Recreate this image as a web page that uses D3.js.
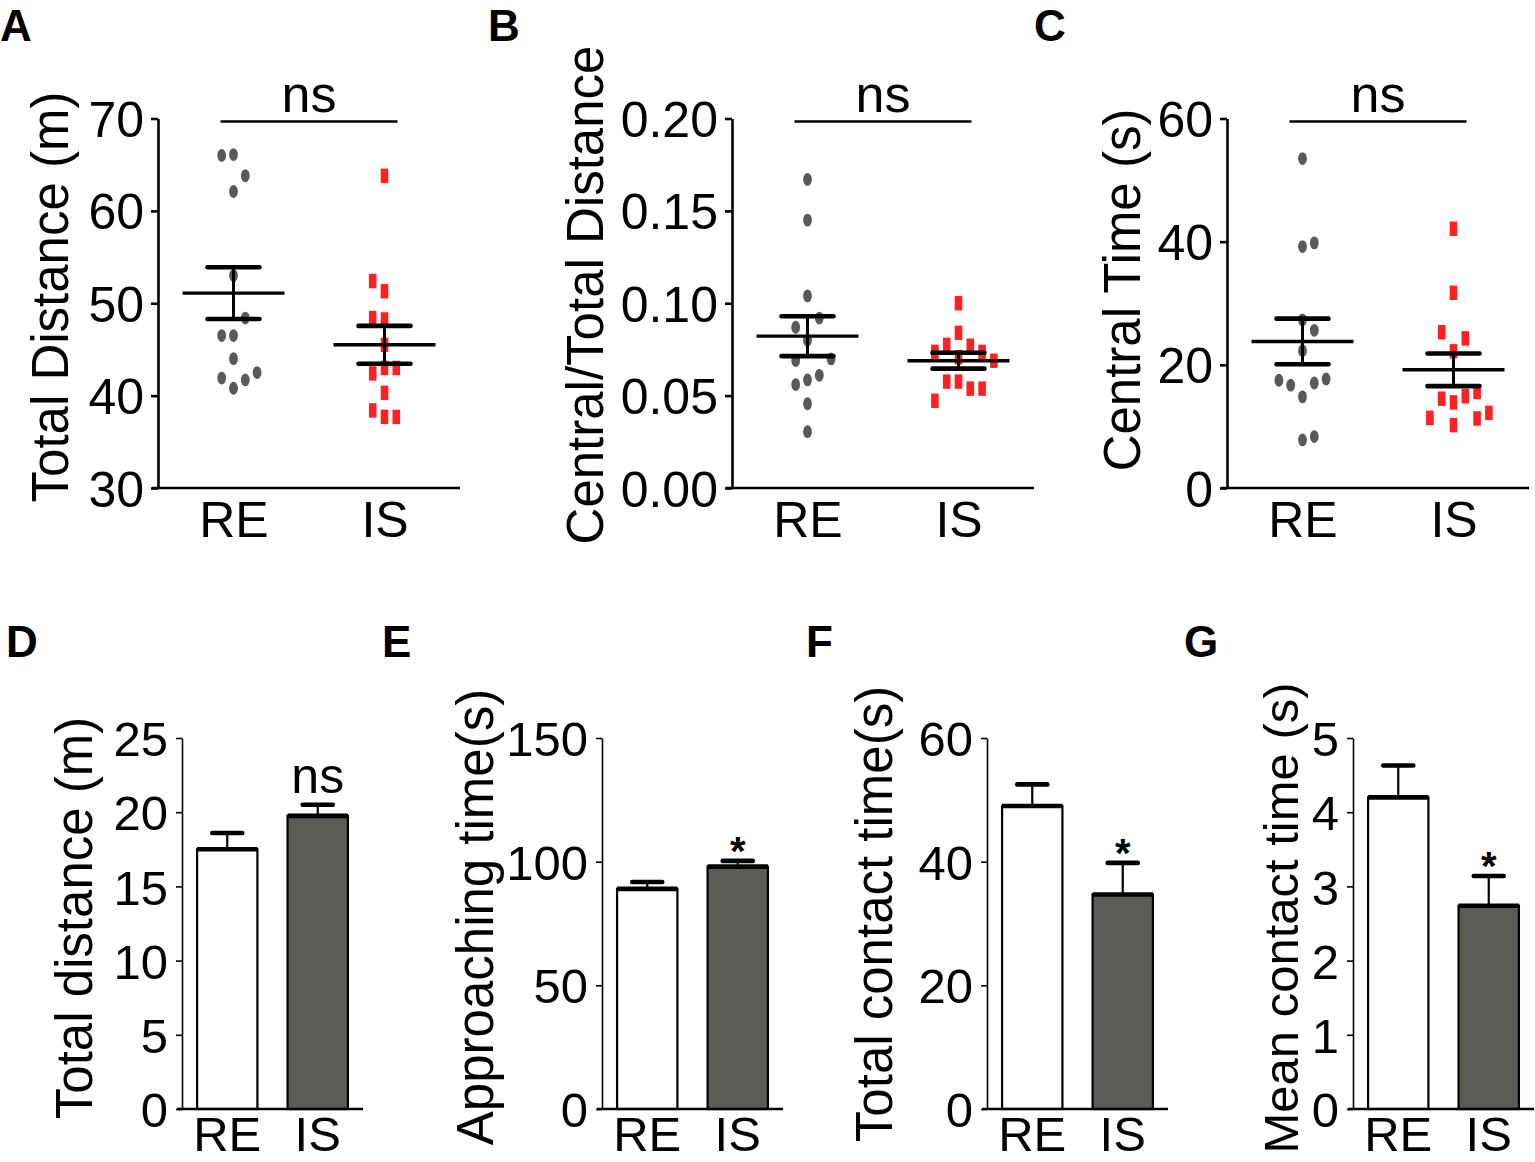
<!DOCTYPE html>
<html><head><meta charset="utf-8">
<script src="https://cdn.jsdelivr.net/npm/d3@7"></script>
<style>
html,body{margin:0;padding:0;background:#fff;}
svg text{font-family:"Liberation Sans",Arial,Helvetica,sans-serif;fill:#000;}
</style></head><body>
<svg id="fig" width="1535" height="1162" xmlns="http://www.w3.org/2000/svg"></svg>
<script>
// ---------- DATA ----------
const groups = ["RE", "IS"];

// A: Total Distance (m)
const aRE = [66.1, 66.0, 63.8, 62.1, 53.0, 46.5, 46.5, 48.4, 44.0, 40.8, 41.9, 41.7, 42.5];
const aIS = [63.8, 51.3, 52.4, 48.25, 48.4, 45.5, 43.0, 42.4, 43.0, 40.3, 37.7, 38.4, 37.7];
const aMean = [51.1, 45.5];
const aSem = [2.8, 2.05];
const aTicks = [30, 40, 50, 60, 70];

// B: Central/Total Distance
const bRE = [0.167, 0.145, 0.104, 0.080, 0.087, 0.092, 0.069, 0.0585, 0.061, 0.0699, 0.056, 0.0456, 0.0305];
const bIS = [0.100, 0.084, 0.0775, 0.077, 0.0737, 0.0737, 0.0708, 0.0689, 0.0576, 0.0576, 0.0538, 0.0538, 0.0472];
const bMean = [0.0822, 0.0689];
const bSem = [0.0108, 0.0043];
const bTicks = [0, 0.05, 0.10, 0.15, 0.20];

// C: Central Time (s)
const cRE = [53.5, 39.2, 39.8, 27.3, 25.6, 22.3, 14.8, 17.05, 16.7, 17.7, 17.5, 7.8, 8.35];
const cIS = [42.1, 31.7, 22.2, 24.3, 25.3, 13.9, 14.9, 14.5, 15.6, 10.2, 11.3, 11.4, 12.2];
const cMean = [23.8, 19.2];
const cSem = [3.7, 2.65];
const cTicks = [0, 20, 40, 60];

// D-G: bar charts (mean, SEM)
const dMean = [17.5, 19.75], dSem = [1.1, 0.75], dTicks = [0, 5, 10, 15, 20, 25];
const eMean = [89, 98],      eSem = [2.8, 2.3],  eTicks = [0, 50, 100, 150];
const fMean = [49, 34.7],    fSem = [3.5, 5.1],  fTicks = [0, 20, 40, 60];
const gMean = [4.2, 2.74],   gSem = [0.43, 0.40], gTicks = [0, 1, 2, 3, 4, 5];

// ---------- DRAWING ----------
const svg = d3.select("#fig");
svg.append("rect").attr("width", 1535).attr("height", 1162).attr("fill", "#fff");
const FONT = '"Liberation Sans",Arial,Helvetica,sans-serif';
const DOT = "#5a5a55", RED = "#ff2121", BARFILL = "#5c5b56";

function panelLetter(t, x, y) {
  svg.append("text").attr("x", x).attr("y", y).attr("font-size", 44)
    .attr("font-weight", "bold").text(t);
}
function yTitle(t, x, y, size) {
  svg.append("text").attr("transform", `translate(${x},${y}) rotate(-90)`)
    .attr("text-anchor", "middle").attr("font-size", size || 51).text(t);
}

function swarm(values, y, T, order) {
  const placed = [];
  return values.map(v => {
    const py = y(v);
    for (const lane of order) {
      if (!placed.some(p => p.lane === lane && Math.abs(p.py - py) < T)) {
        placed.push({ lane, py });
        return { v, lane, py };
      }
    }
    return { v, lane: 0, py };
  });
}

function scatterPanel(cfg) {
  const g = svg.append("g");
  const x = d3.scalePoint().domain(groups).range([cfg.ax, cfg.ax + 302]).padding(0.5);
  const y = d3.scaleLinear().domain(cfg.domain).range([488, 118.5]);

  const ya = g.append("g").attr("transform", `translate(${cfg.ax},0)`)
    .call(d3.axisLeft(y).tickValues(cfg.ticks).tickFormat(cfg.fmt)
      .tickSize(7).tickSizeOuter(0).tickPadding(7));
  ya.attr("font-size", 50).attr("font-family", FONT);
  ya.select(".domain").attr("stroke", "#000").attr("stroke-width", 2.6);
  ya.selectAll(".tick line").attr("stroke", "#000").attr("stroke-width", 2.6);
  ya.selectAll(".tick text").attr("fill", "#000").attr("dy", "0.36em");

  const xa = g.append("g").attr("transform", "translate(0,488)")
    .call(d3.axisBottom(x).tickSize(0).tickPadding(13.5));
  xa.attr("font-size", 50).attr("font-family", FONT);
  xa.select(".domain").remove();
  xa.selectAll(".tick text").attr("fill", "#000");
  g.append("line").attr("x1", cfg.ax - 6).attr("x2", x.range()[1])
    .attr("y1", y.range()[0]).attr("y2", y.range()[0])
    .attr("stroke", "#000").attr("stroke-width", 2.6);

  const laneW = 11.8;
  const re = swarm(cfg.re, y, 22.5, cfg.order);
  g.selectAll(".re").data(re).join("ellipse")
    .attr("cx", d => x("RE") + d.lane * laneW).attr("cy", d => d.py)
    .attr("rx", 4.4).attr("ry", 6.4).attr("fill", DOT);
  const is = swarm(cfg.is, y, 22.5, cfg.order);
  g.selectAll(".is").data(is).join("rect")
    .attr("x", d => x("IS") + d.lane * laneW - 3.8).attr("y", d => d.py - 7.2)
    .attr("width", 7.6).attr("height", 14.4).attr("fill", RED);

  groups.forEach((k, i) => {
    const cx = x(k), m = cfg.mean[i], s = cfg.sem[i];
    g.append("line").attr("x1", cx - 51).attr("x2", cx + 51)
      .attr("y1", y(m)).attr("y2", y(m)).attr("stroke", "#000").attr("stroke-width", 3.4);
    g.append("line").attr("x1", cx).attr("x2", cx)
      .attr("y1", y(m - s)).attr("y2", y(m + s)).attr("stroke", "#000").attr("stroke-width", 3);
    [m - s, m + s].forEach(v => {
      g.append("line").attr("x1", cx - 26).attr("x2", cx + 26)
        .attr("y1", y(v)).attr("y2", y(v)).attr("stroke", "#000")
        .attr("stroke-width", 4.6).attr("stroke-linecap", "round");
    });
  });

  const x1 = x("RE") - 13, x2 = x("IS") + 13;
  g.append("line").attr("x1", x1).attr("x2", x2).attr("y1", 121.5).attr("y2", 121.5)
    .attr("stroke", "#000").attr("stroke-width", 2.4);
  g.append("text").attr("x", (x1 + x2) / 2).attr("y", 112).attr("text-anchor", "middle")
    .attr("font-size", 52).text("ns");
}

function barPanel(cfg) {
  const g = svg.append("g");
  const x = d3.scaleBand().domain(groups).range([cfg.ax, cfg.ax + 181])
    .paddingInner(1 / 3).paddingOuter(1 / 6);
  const y = d3.scaleLinear().domain([0, cfg.max]).range([1109, 738]);

  const ya = g.append("g").attr("transform", `translate(${cfg.ax},0)`)
    .call(d3.axisLeft(y).tickValues(cfg.ticks).tickFormat(d3.format("d"))
      .tickSize(6).tickSizeOuter(0).tickPadding(8));
  ya.attr("font-size", 49).attr("font-family", FONT);
  ya.select(".domain").attr("stroke", "#000").attr("stroke-width", 1.6);
  ya.selectAll(".tick line").attr("stroke", "#000").attr("stroke-width", 1.6);
  ya.selectAll(".tick text").attr("fill", "#000").attr("dy", "0.36em");

  const bw = x.bandwidth();
  groups.forEach((k, i) => {
    const m = cfg.mean[i], s = cfg.sem[i], x0 = x(k), cx = x0 + bw / 2;
    g.append("line").attr("x1", cx).attr("x2", cx).attr("y1", y(m)).attr("y2", y(m + s))
      .attr("stroke", "#000").attr("stroke-width", 2.2);
    g.append("line").attr("x1", cx - 15).attr("x2", cx + 15).attr("y1", y(m + s)).attr("y2", y(m + s))
      .attr("stroke", "#000").attr("stroke-width", 4.6).attr("stroke-linecap", "round");
    g.append("rect").attr("x", x0).attr("y", y(m)).attr("width", bw).attr("height", y(0) - y(m))
      .attr("fill", i === 0 ? "#fff" : BARFILL).attr("stroke", "#000").attr("stroke-width", 2.2);
    g.append("line").attr("x1", x0).attr("x2", x0 + bw).attr("y1", y(m)).attr("y2", y(m))
      .attr("stroke", "#000").attr("stroke-width", 4.6);
  });

  const xa = g.append("g").attr("transform", "translate(0,1109)")
    .call(d3.axisBottom(x).tickSize(0).tickPadding(7));
  xa.attr("font-size", 49).attr("font-family", FONT);
  xa.select(".domain").remove();
  xa.selectAll(".tick text").attr("fill", "#000");
  g.append("line").attr("x1", cfg.ax - 5).attr("x2", x.range()[1])
    .attr("y1", 1109).attr("y2", 1109).attr("stroke", "#000").attr("stroke-width", 2.6);

  const cxIS = x("IS") + bw / 2, top = y(cfg.mean[1] + cfg.sem[1]);
  if (cfg.sig === "ns") {
    g.append("text").attr("x", cxIS).attr("y", top - 12).attr("text-anchor", "middle")
      .attr("font-size", 50).text("ns");
  } else {
    g.append("text").attr("x", cxIS).attr("y", top + 4).attr("text-anchor", "middle")
      .attr("font-size", 40).attr("font-weight", "bold").text(cfg.sig);
  }
}

// ---- Top row ----
panelLetter("A", 0, 41);
panelLetter("B", 488, 41);
panelLetter("C", 1034, 41);
yTitle("Total Distance (m)", 68, 297);
yTitle("Central/Total Distance", 603, 295);
yTitle("Central Time (s)", 1140, 290);

scatterPanel({ ax: 158, domain: [30, 70], ticks: aTicks, fmt: d3.format("d"),
  re: aRE, is: aIS, mean: aMean, sem: aSem, order: [0, -1, 1, 2, -2, 3, -3] });
scatterPanel({ ax: 732, domain: [0, 0.2], ticks: bTicks, fmt: d3.format(".2f"),
  re: bRE, is: bIS, mean: bMean, sem: bSem, order: [0, -1, 1, 2, -2, 3, -3] });
scatterPanel({ ax: 1227, domain: [0, 60], ticks: cTicks, fmt: d3.format("d"),
  re: cRE, is: cIS, mean: cMean, sem: cSem, order: [0, 1, -1, 2, -2, 3, -3] });

// ---- Bottom row ----
panelLetter("D", 6, 657);
panelLetter("E", 382, 657);
panelLetter("F", 806, 657);
panelLetter("G", 1184, 657);
yTitle("Total distance (m)", 92, 918);
yTitle("Approaching time(s)", 493, 917);
yTitle("Total contact time(s)", 892, 914);
yTitle("Mean contact time (s)", 1298, 918, 49);

barPanel({ ax: 182, max: 25, ticks: dTicks, mean: dMean, sem: dSem, sig: "ns" });
barPanel({ ax: 602, max: 150, ticks: eTicks, mean: eMean, sem: eSem, sig: "*" });
barPanel({ ax: 987, max: 60, ticks: fTicks, mean: fMean, sem: fSem, sig: "*" });
barPanel({ ax: 1353, max: 5, ticks: gTicks, mean: gMean, sem: gSem, sig: "*" });
</script>
</body></html>
